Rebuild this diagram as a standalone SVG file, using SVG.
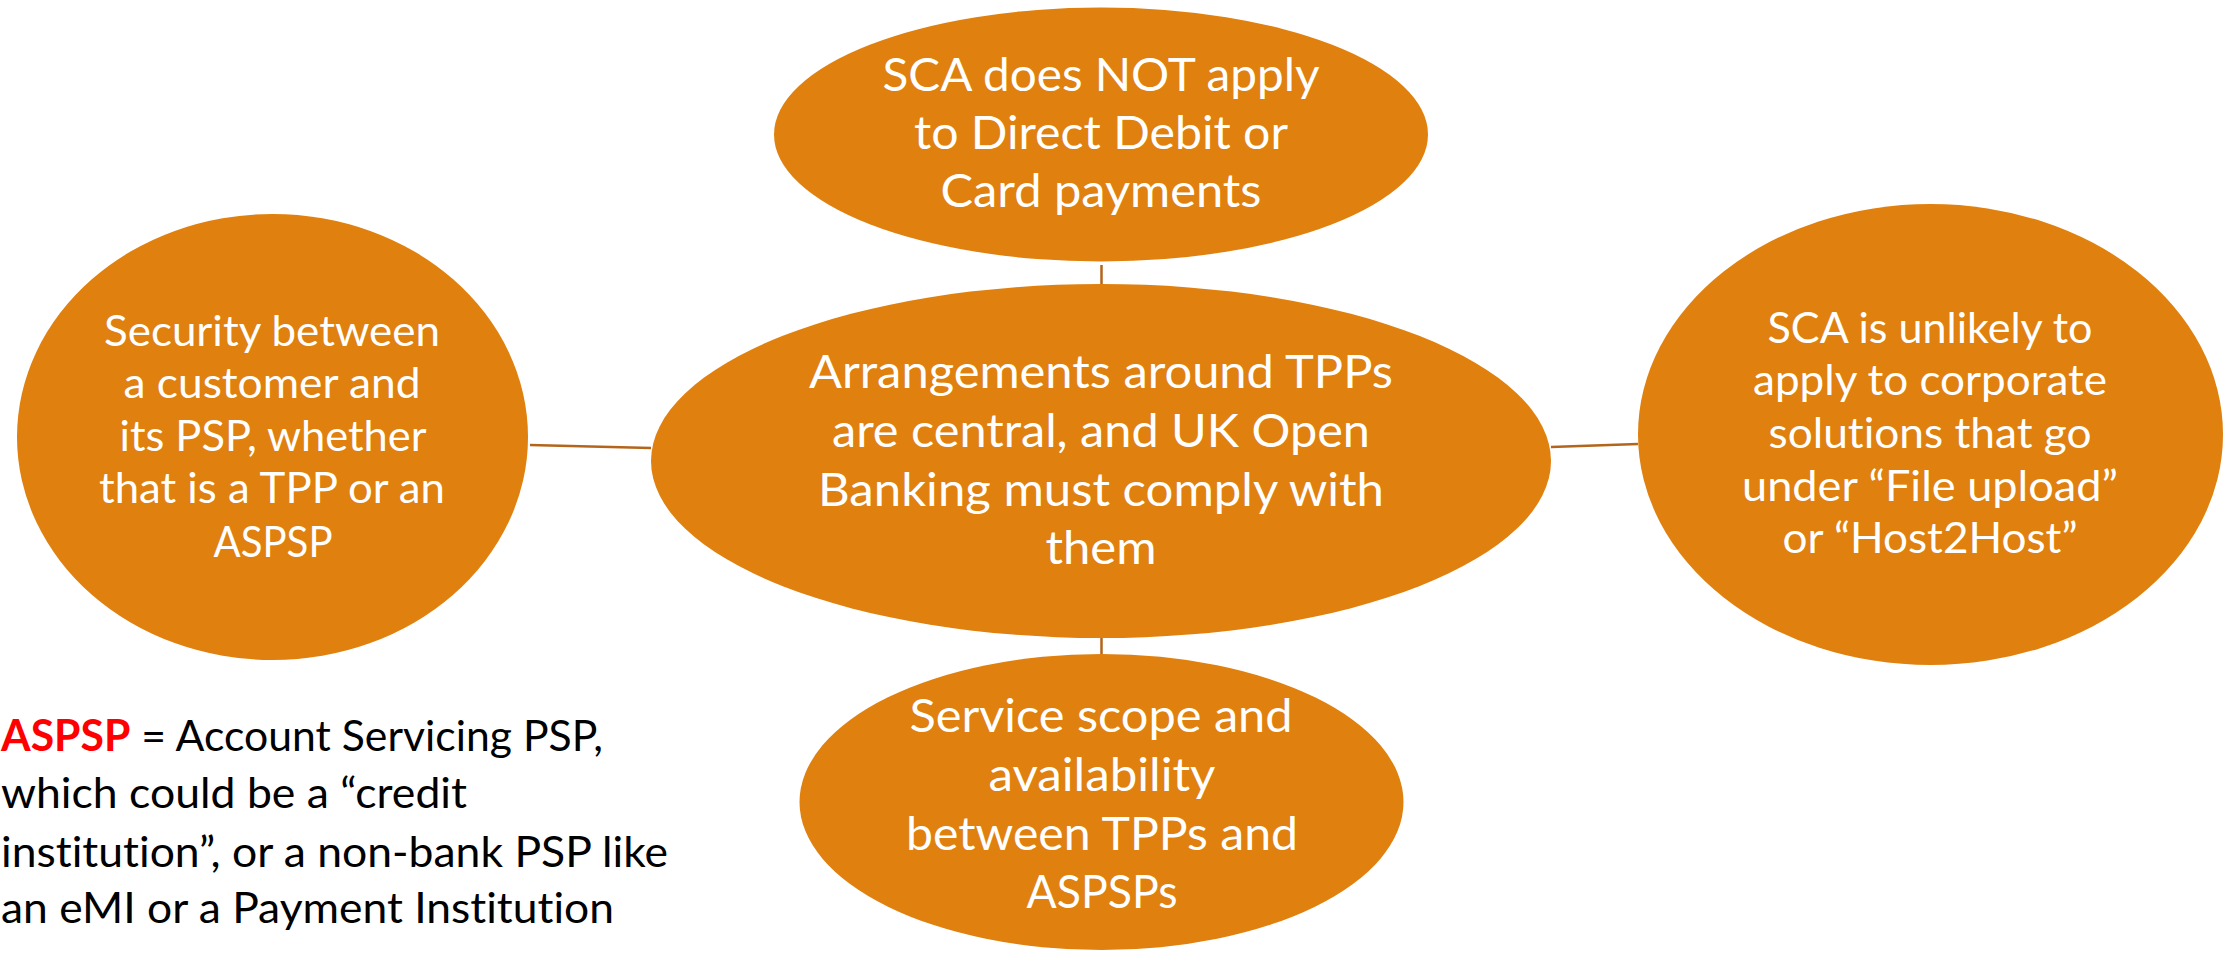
<svg xmlns="http://www.w3.org/2000/svg" width="2236" height="953" viewBox="0 0 2236 953">
  <style>
    .bubble { fill: #E0800E; }
    .link { stroke: #B3651C; stroke-width: 2.5; fill: none; }
    text { font-variant-ligatures: none; }
    .lbl { font-family: Lato, "Liberation Sans", Arial, sans-serif; fill: #FFFFFF; text-anchor: middle; }
    .big { font-size: 46px; }
    .small { font-size: 42px; }
    .note { font-family: Lato, "Liberation Sans", Arial, sans-serif; font-size: 43px; fill: #000000; }
    .key { fill: #FF0000; font-weight: bold; }
  </style>
  <rect width="2236" height="953" fill="#FFFFFF"/>

  <!-- links from the centre bubble to the four satellites -->
  <g id="connectors">
    <line class="link" x1="1101.5" y1="265" x2="1101.5" y2="284"/>
    <line class="link" x1="1101.5" y1="638" x2="1101.5" y2="654"/>
    <line class="link" x1="530" y1="445" x2="651" y2="448"/>
    <line class="link" x1="1551" y1="447" x2="1638" y2="444"/>
  </g>

  <g id="node-top">
    <ellipse class="bubble" cx="1101" cy="134.5" rx="327" ry="127"/>
    <text class="lbl big" x="1101" y="91" textLength="437" lengthAdjust="spacingAndGlyphs">SCA does NOT apply</text>
    <text class="lbl big" x="1101" y="149" textLength="374" lengthAdjust="spacingAndGlyphs">to Direct Debit or</text>
    <text class="lbl big" x="1101" y="207" textLength="321" lengthAdjust="spacingAndGlyphs">Card payments</text>
  </g>

  <g id="node-left">
    <ellipse class="bubble" cx="272.5" cy="437" rx="255.5" ry="223"/>
    <text class="lbl small" x="272" y="346" textLength="336" lengthAdjust="spacingAndGlyphs">Security between</text>
    <text class="lbl small" x="272" y="398" textLength="297" lengthAdjust="spacingAndGlyphs">a customer and</text>
    <text class="lbl small" x="273" y="451" textLength="307" lengthAdjust="spacingAndGlyphs">its PSP, whether</text>
    <text class="lbl small" x="272" y="503" textLength="346" lengthAdjust="spacingAndGlyphs">that is a TPP or an</text>
    <text class="lbl small" x="273" y="557" textLength="119" lengthAdjust="spacingAndGlyphs">ASPSP</text>
  </g>

  <g id="node-centre">
    <ellipse class="bubble" cx="1101" cy="461" rx="450" ry="177"/>
    <text class="lbl big" x="1101" y="388" textLength="584" lengthAdjust="spacingAndGlyphs">Arrangements around TPPs</text>
    <text class="lbl big" x="1101" y="447" textLength="538" lengthAdjust="spacingAndGlyphs">are central, and UK Open</text>
    <text class="lbl big" x="1101" y="506" textLength="566" lengthAdjust="spacingAndGlyphs">Banking must comply with</text>
    <text class="lbl big" x="1101" y="564" textLength="111" lengthAdjust="spacingAndGlyphs">them</text>
  </g>

  <g id="node-right">
    <ellipse class="bubble" cx="1930.5" cy="434.5" rx="292.5" ry="230.5"/>
    <text class="lbl small" x="1930" y="343" textLength="325" lengthAdjust="spacingAndGlyphs">SCA is unlikely to</text>
    <text class="lbl small" x="1930" y="395" textLength="354" lengthAdjust="spacingAndGlyphs">apply to corporate</text>
    <text class="lbl small" x="1930" y="448" textLength="323" lengthAdjust="spacingAndGlyphs">solutions that go</text>
    <text class="lbl small" x="1930" y="501" textLength="376" lengthAdjust="spacingAndGlyphs">under “File upload”</text>
    <text class="lbl small" x="1930" y="553" textLength="295" lengthAdjust="spacingAndGlyphs">or “Host2Host”</text>
  </g>

  <g id="node-bottom">
    <ellipse class="bubble" cx="1101.5" cy="802" rx="302" ry="148"/>
    <text class="lbl big" x="1101" y="732" textLength="383" lengthAdjust="spacingAndGlyphs">Service scope and</text>
    <text class="lbl big" x="1102" y="791" textLength="227" lengthAdjust="spacingAndGlyphs">availability</text>
    <text class="lbl big" x="1102" y="850" textLength="392" lengthAdjust="spacingAndGlyphs">between TPPs and</text>
    <text class="lbl big" x="1102" y="908" textLength="151" lengthAdjust="spacingAndGlyphs">ASPSPs</text>
  </g>

  <!-- glossary note, bottom left -->
  <g id="legend">
    <text class="note" x="1" y="751" textLength="602" lengthAdjust="spacingAndGlyphs"><tspan class="key">ASPSP</tspan> = Account Servicing PSP,</text>
    <text class="note" x="1" y="808" textLength="466" lengthAdjust="spacingAndGlyphs">which could be a “credit</text>
    <text class="note" x="1" y="867" textLength="667" lengthAdjust="spacingAndGlyphs">institution”, or a non-bank PSP like</text>
    <text class="note" x="1" y="923" textLength="613" lengthAdjust="spacingAndGlyphs">an eMI or a Payment Institution</text>
  </g>
</svg>
